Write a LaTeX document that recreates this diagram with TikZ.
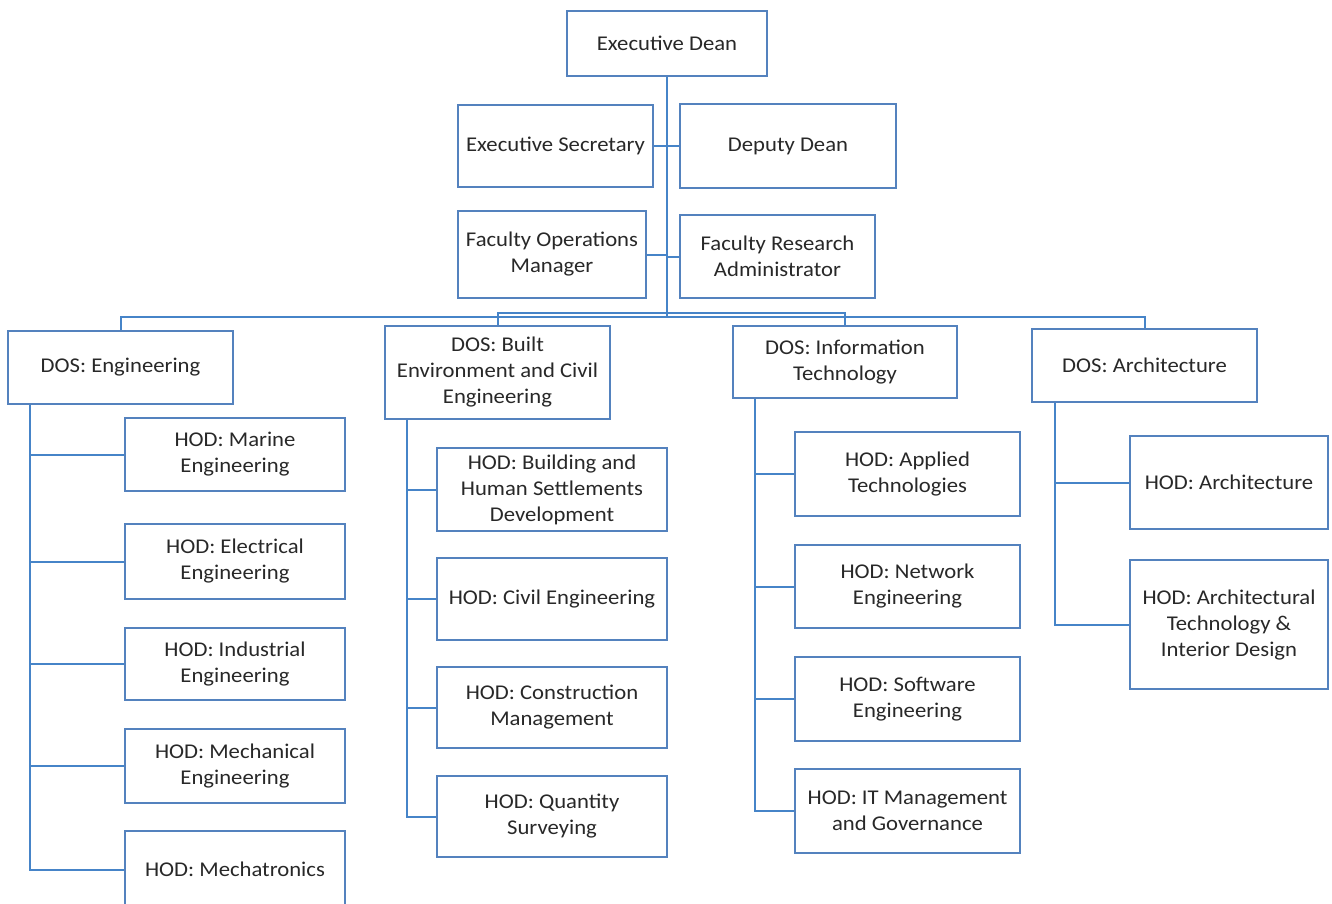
\documentclass[tikz,border=0pt]{standalone}
\usepackage{fontspec}
\setmainfont{Carlito}[FakeStretch=1.08]
\usepackage{tikz}
\definecolor{boxblue}{RGB}{84,130,190}
\definecolor{lineblue}{RGB}{70,132,200}
\definecolor{textgray}{RGB}{40,40,40}
\begin{document}
\begin{tikzpicture}[x=1pt,y=-1pt,
  box/.style={draw=boxblue, line width=1.3pt, fill=white, align=center, text=textgray,
    inner sep=2pt, font=\fontsize{21}{26}\selectfont},
  conn/.style={draw=lineblue, line width=2pt}]
\useasboundingbox (0,0) rectangle (1332,903);
% top level
\node[box, minimum width=200pt, minimum height=65pt] (exDean) at (667,43.5) {Executive Dean};
\node[box, minimum width=195pt, minimum height=82pt] (exSec) at (555.5,146) {Executive Secretary};
\node[box, minimum width=216pt, minimum height=84pt] (depDean) at (788,146) {Deputy Dean};
\node[box, minimum width=188pt, minimum height=87pt] (facOps) at (552,254.5) {Faculty Operations\\Manager};
\node[box, minimum width=195pt, minimum height=83pt] (facRes) at (777.5,256.5) {Faculty Research\\Administrator};
\coordinate (hub) at (667,317);
\coordinate (hubIn) at (667,313);
% schools
\node[box, minimum width=225pt, minimum height=73pt] (dosEng) at (120.5,367.5) {DOS: Engineering};
\node[box, minimum width=225pt, minimum height=93pt] (dosBuilt) at (497.5,372.5) {DOS: Built\\Environment and Civil\\Engineering};
\node[box, minimum width=224pt, minimum height=72pt] (dosIT) at (845,362) {DOS: Information\\Technology};
\node[box, minimum width=225pt, minimum height=73pt] (dosArch) at (1144.5,365.5) {DOS: Architecture};
% departments: engineering
\node[box, minimum width=220pt, minimum height=73pt] (hodMarine) at (235,454.5) {HOD: Marine\\Engineering};
\node[box, minimum width=220pt, minimum height=75pt] (hodElec) at (235,561.5) {HOD: Electrical\\Engineering};
\node[box, minimum width=220pt, minimum height=72pt] (hodIndus) at (235,664) {HOD: Industrial\\Engineering};
\node[box, minimum width=220pt, minimum height=74pt] (hodMech) at (235,766) {HOD: Mechanical\\Engineering};
\node[box, minimum width=220pt, minimum height=76pt] (hodMechat) at (235,869) {HOD: Mechatronics};
% departments: built environment
\node[box, minimum width=230pt, minimum height=83pt] (hodBuild) at (552,489.5) {HOD: Building and\\Human Settlements\\Development};
\node[box, minimum width=230pt, minimum height=82pt] (hodCivil) at (552,599) {HOD: Civil Engineering};
\node[box, minimum width=230pt, minimum height=81pt] (hodConstr) at (552,707.5) {HOD: Construction\\Management};
\node[box, minimum width=230pt, minimum height=81pt] (hodQuant) at (552,816.5) {HOD: Quantity\\Surveying};
% departments: information technology
\node[box, minimum width=225pt, minimum height=84pt] (hodApplied) at (907.5,474) {HOD: Applied\\Technologies};
\node[box, minimum width=225pt, minimum height=83pt] (hodNet) at (907.5,586.5) {HOD: Network\\Engineering};
\node[box, minimum width=225pt, minimum height=84pt] (hodSoft) at (907.5,699) {HOD: Software\\Engineering};
\node[box, minimum width=225pt, minimum height=84pt] (hodITM) at (907.5,811) {HOD: IT Management\\and Governance};
% departments: architecture
\node[box, minimum width=198pt, minimum height=93pt] (hodArch) at (1229,482.5) {HOD: Architecture};
\node[box, minimum width=198pt, minimum height=129pt] (hodArchTech) at (1229,624.5) {HOD: Architectural\\Technology \&\\Interior Design};
% connectors
\draw[conn] (exDean.south) -- (hub);
\draw[conn] (exSec.east) -- (depDean.west);
\draw[conn] (facOps.east) -- (facOps.east -| hub);
\draw[conn] (facRes.west) -- (facRes.west -| hub);
\draw[conn] (hub) -| (dosEng.north);
\draw[conn] (hub) -| (dosArch.north);
\draw[conn] (dosBuilt.north) |- (hubIn) -| (dosIT.north);
\draw[conn] ([xshift=23pt]dosEng.south west) |- (hodMarine.west);
\draw[conn] ([xshift=23pt]dosEng.south west) |- (hodElec.west);
\draw[conn] ([xshift=23pt]dosEng.south west) |- (hodIndus.west);
\draw[conn] ([xshift=23pt]dosEng.south west) |- (hodMech.west);
\draw[conn] ([xshift=23pt]dosEng.south west) |- ([yshift=-1pt]hodMechat.west);
\draw[conn] ([xshift=23pt]dosBuilt.south west) |- (hodBuild.west);
\draw[conn] ([xshift=23pt]dosBuilt.south west) |- (hodCivil.west);
\draw[conn] ([xshift=23pt]dosBuilt.south west) |- (hodConstr.west);
\draw[conn] ([xshift=23pt]dosBuilt.south west) |- (hodQuant.west);
\draw[conn] ([xshift=23pt]dosIT.south west) |- (hodApplied.west);
\draw[conn] ([xshift=23pt]dosIT.south west) |- (hodNet.west);
\draw[conn] ([xshift=23pt]dosIT.south west) |- (hodSoft.west);
\draw[conn] ([xshift=23pt]dosIT.south west) |- (hodITM.west);
\draw[conn] ([xshift=24pt]dosArch.south west) |- (hodArch.west);
\draw[conn] ([xshift=24pt]dosArch.south west) |- (hodArchTech.west);
\end{tikzpicture}
\end{document}
